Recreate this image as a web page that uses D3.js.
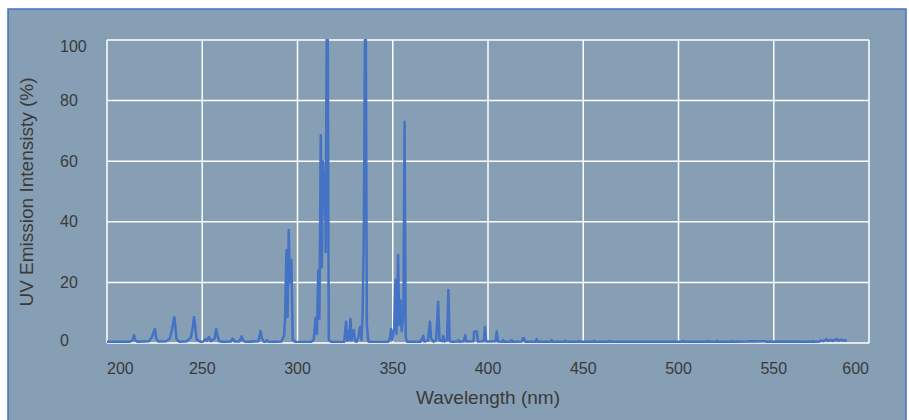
<!DOCTYPE html>
<html>
<head>
<meta charset="utf-8">
<script src="https://cdn.jsdelivr.net/npm/d3@7"></script>
<style>
  body { margin: 0; background: #fff; }
  text { font-family: "Liberation Sans", Arial, sans-serif; fill: #3a3a3a; }
</style>
</head>
<body>
<svg id="chart" width="909" height="420"></svg>
<script>
// spectrum (nm, % intensity)
const wavelengths = [
  200, 212, 213.5, 214.2, 214.8, 216, 222, 223.5, 224.5, 225.2, 225.8, 227,
  231, 233, 234.5, 235.3, 235.8, 236.5, 238, 242, 244, 245, 245.7, 246.3, 247, 249,
  250.5, 251.5, 252.5, 253.5, 254.5, 256.5, 257.3, 258, 258.8, 261, 265, 266, 267,
  269.5, 270.7, 271.5, 273, 279.5, 280.6, 281.3, 282.5, 283.5, 284, 285,
  291.5, 293, 293.5, 294.2, 294.8, 295.4, 296, 296.8, 297.5, 299,
  307, 308.5, 309.5, 310.2, 310.9, 311.5, 312.2, 312.8, 313.4, 313.9, 314.4, 314.8, 315.3, 315.9, 316.4, 318,
  324.5, 325.5, 326.1, 326.6, 327.2, 327.8, 328.4, 329, 329.6, 330.2, 331, 332, 332.8, 333.6,
  334.2, 334.8, 335.4, 335.9, 336.4, 337.2, 339,
  347.5, 348.5, 349.1, 349.7, 350.8, 351.4, 352, 352.8, 353.4, 354.1, 354.7, 355.6, 356.2, 356.8, 357.5,
  364.5, 365.5, 366, 366.6, 368.5, 369.5, 370.2, 371.5, 372.8, 373.8, 374.5, 376, 376.5, 377.2,
  378.5, 379.2, 379.9, 381.5, 384, 384.4, 384.9, 387.4, 388, 388.6, 392.4, 392.7, 393.4, 394.1, 394.7,
  397.8, 398.4, 399, 404, 404.6, 405.2, 407.6, 408, 408.5, 412, 412.4, 412.9, 417.8, 418.2, 419, 419.5,
  425, 425.5, 426, 433, 433.4, 433.9, 440, 440.4, 440.9, 447.5, 447.8, 448.2, 455.3, 455.6, 456,
  463.6, 464, 464.4, 502, 502.4, 503, 515, 515.5, 516, 520, 520.3, 520.8, 528.3, 528.6, 529,
  536, 538, 541, 545, 546, 553, 570.3, 570.6, 571, 574, 575, 576, 577.8, 578.5, 580, 581,
  583, 584, 585.5, 586.5, 588.3
];
const intensities = [
  0.4, 0.4, 1.0, 2.6, 1.0, 0.4, 0.6, 1.8, 3.5, 4.6, 1.5, 0.5,
  0.6, 1.5, 5.5, 8.6, 6, 1.2, 0.4, 0.6, 1.8, 5, 8.6, 5.5, 1.2, 0.4,
  0.5, 1.2, 0.8, 2, 0.6, 1.5, 4.6, 2.5, 0.6, 0.4, 0.5, 1.5, 0.5,
  0.5, 2.2, 0.8, 0.3, 0.6, 4, 1.5, 0.3, 0.5, 1, 0.3,
  0.5, 2.5, 8.6, 30.7, 8.6, 37.3, 20, 27.4, 1, 0.3,
  0.3, 1, 8.3, 3, 24, 8, 68.6, 25, 60, 45, 56, 30, 100, 100, 1, 0.3,
  0.4, 7, 0.8, 4, 1, 8, 1, 3, 4.3, 0.6, 0.4, 2, 5.3, 1,
  10, 35, 100, 100, 6, 0.5, 0.3,
  0.4, 1.5, 4.6, 1, 5, 20.8, 3, 29, 6, 14, 4, 10, 73, 2, 0.4,
  0.4, 1.5, 2.4, 0.5, 0.8, 7, 1.5, 0.4, 1, 13.6, 1, 0.6, 2.3, 0.5,
  1, 17.5, 0.6, 0.4, 0.5, 1, 0.4, 0.6, 2.6, 0.5, 0.6, 3.7, 3.8, 3.8, 0.5,
  0.6, 5.3, 0.5, 0.6, 3.8, 0.5, 0.4, 1, 0.4, 0.4, 1, 0.4, 0.5, 1.6, 1.6, 0.4,
  0.4, 1.3, 0.4, 0.4, 1, 0.4, 0.4, 0.8, 0.4, 0.4, 0.6, 0.4, 0.4, 0.7, 0.4,
  0.4, 0.7, 0.4, 0.4, 0.7, 0.4, 0.4, 0.7, 0.4, 0.4, 0.7, 0.4, 0.4, 0.6, 0.4,
  0.5, 0.6, 0.5, 0.6, 0.4, 0.5, 0.4, 0.6, 0.4, 0.5, 0.8, 0.6, 1.2, 0.7, 1, 0.7,
  1.3, 0.8, 1.1, 0.8, 0.8
];
const xTicks = [200, 250, 300, 350, 400, 450, 500, 550, 600];
const yTicks = [0, 20, 40, 60, 80, 100];

const svg = d3.select("#chart");
const plotL = 107, plotR = 869, plotT = 40, plotB = 343;

// panel background with blue frame
svg.append("rect")
  .attr("x", 8).attr("y", 9)
  .attr("width", 898).attr("height", 430)
  .attr("fill", "#879fb5")
  .attr("stroke", "#4472c4")
  .attr("stroke-width", 1.5);

const x = d3.scaleLinear().domain([200, 600]).range([plotL, plotR]);
const y = d3.scaleLinear().domain([0, 100]).range([plotB, plotT]);

// grid
svg.append("g").selectAll("line")
  .data(xTicks).enter().append("line")
  .attr("x1", d => x(d)).attr("x2", d => x(d))
  .attr("y1", plotT).attr("y2", plotB)
  .attr("stroke", "#fff").attr("stroke-width", 1.5);

svg.append("g").selectAll("line")
  .data(yTicks).enter().append("line")
  .attr("x1", plotL).attr("x2", plotR)
  .attr("y1", d => y(d)).attr("y2", d => y(d))
  .attr("stroke", "#fff").attr("stroke-width", 1.5);

// tick labels
svg.append("g").selectAll("text")
  .data(yTicks).enter().append("text")
  .attr("x", 60)
  .attr("y", d => Math.min(Math.max(y(d), plotT + 6.5), plotB - 2.5))
  .attr("dy", "0.35em")
  .attr("font-size", 16)
  .text(d => d);

svg.append("g").selectAll("text")
  .data(xTicks).enter().append("text")
  .attr("x", d => x(d))
  .attr("y", 374)
  .attr("font-size", 16)
  .attr("text-anchor", (d, i) => i === 0 ? "start" : (i === xTicks.length - 1 ? "end" : "middle"))
  .text(d => d);

// axis titles
svg.append("text")
  .attr("x", (plotL + plotR) / 2).attr("y", 404)
  .attr("text-anchor", "middle")
  .attr("font-size", 19)
  .text("Wavelength (nm)");

svg.append("text")
  .attr("transform", "translate(33,192) rotate(-90)")
  .attr("text-anchor", "middle")
  .attr("font-size", 19)
  .text("UV Emission Intensisty (%)");

// spectrum
svg.append("defs").append("clipPath").attr("id", "clip")
  .append("rect")
  .attr("x", plotL).attr("y", plotT - 1)
  .attr("width", plotR - plotL).attr("height", plotB - plotT + 1);

const line = d3.line()
  .x((d, i) => x(wavelengths[i]))
  .y(d => y(d));

svg.append("path")
  .datum(intensities)
  .attr("clip-path", "url(#clip)")
  .attr("fill", "none")
  .attr("stroke", "#4472c4")
  .attr("stroke-width", 2.5)
  .attr("stroke-linejoin", "round")
  .attr("d", line);
</script>
</body>
</html>
